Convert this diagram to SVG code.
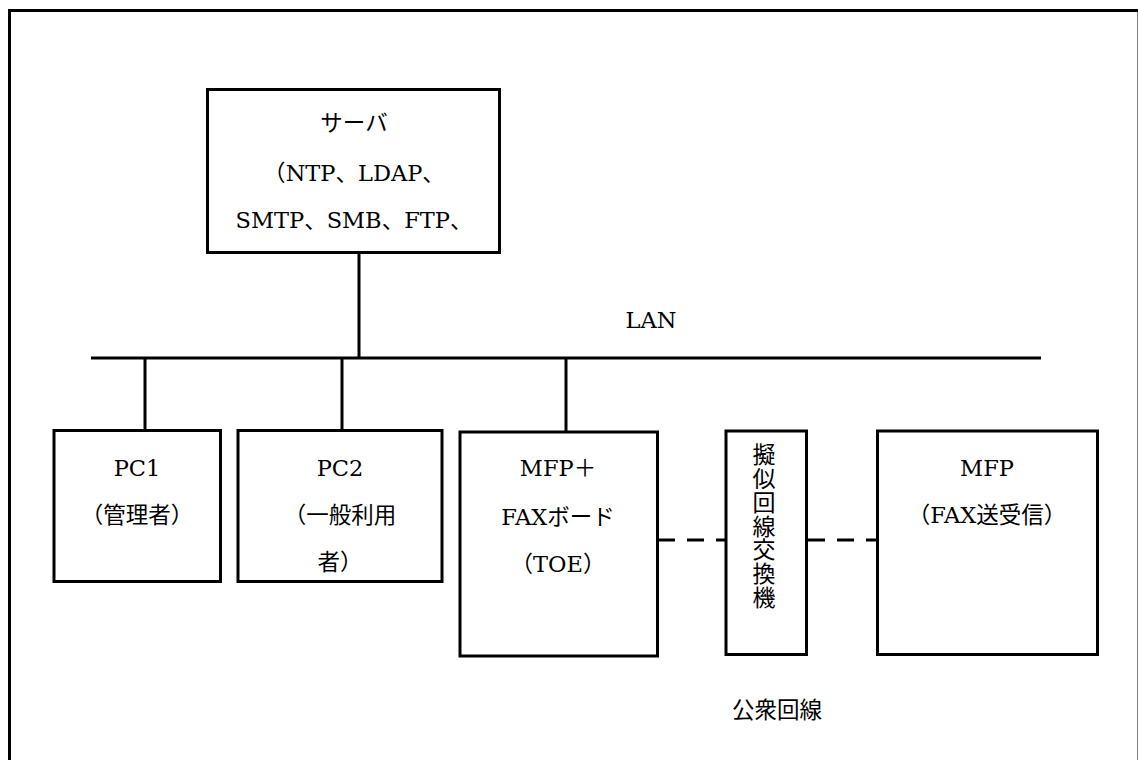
<svg xmlns="http://www.w3.org/2000/svg" width="1138" height="760" viewBox="0 0 1138 760">
<style>
.box{fill:#fff;stroke:#000;stroke-width:3}
.ln{fill:none;stroke:#000;stroke-width:3}
.dash{fill:none;stroke:#000;stroke-width:3;stroke-dasharray:17 12}
text{font-family:"DejaVu Serif","Noto Sans CJK JP",serif;font-size:22.5px;fill:#000;text-anchor:middle}
.la{font-family:"DejaVu Serif",serif}
.vert{writing-mode:vertical-rl;text-anchor:start;font-size:23px;letter-spacing:0.8px}
</style>
<rect width="1138" height="760" fill="#fff"/>
<rect x="9.5" y="10.5" width="1129.5" height="800" fill="none" stroke="#000" stroke-width="3"/>
<g id="connectors">
<line class="ln" x1="91" y1="358" x2="1041" y2="358"/>
<line class="ln" x1="359" y1="252" x2="359" y2="358"/>
<line class="ln" x1="145" y1="358" x2="145" y2="430"/>
<line class="ln" x1="342" y1="358" x2="342" y2="430"/>
<line class="ln" x1="566" y1="358" x2="566" y2="431"/>
<line class="dash" x1="658" y1="540" x2="725" y2="540"/>
<line class="dash" x1="808" y1="540" x2="877" y2="540"/>
</g>
<g id="lan-label"><text x="651" y="328" class="la">LAN</text></g>
<g id="server">
<rect class="box" x="207.5" y="89.5" width="292" height="163"/>
<text x="354" y="131">サーバ</text>
<text x="354" y="181">（<tspan class="la">NTP</tspan>、<tspan class="la">LDAP</tspan>、</text>
<text x="354" y="228"><tspan class="la">SMTP</tspan>、<tspan class="la">SMB</tspan>、<tspan class="la">FTP</tspan>、</text>
</g>
<g id="pc1">
<rect class="box" x="54" y="430.5" width="166.5" height="151"/>
<text x="137" y="476" class="la">PC1</text>
<text x="137" y="523">（管理者）</text>
</g>
<g id="pc2">
<rect class="box" x="238" y="430.5" width="204" height="151"/>
<text x="340" y="476" class="la">PC2</text>
<text x="340" y="523">（一般利用</text>
<text x="340" y="570">者）</text>
</g>
<g id="mfp-fax">
<rect class="box" x="460" y="432" width="197.5" height="224"/>
<text x="558" y="476"><tspan class="la">MFP</tspan>＋</text>
<text x="558" y="525"><tspan class="la">FAX</tspan>ボード</text>
<text x="558" y="572">（<tspan class="la">TOE</tspan>）</text>
</g>
<g id="pbx">
<rect class="box" x="726" y="431" width="80.5" height="223.5"/>
<text class="vert" x="762" y="443">擬似回線交換機</text>
</g>
<g id="mfp">
<rect class="box" x="877.5" y="431" width="220" height="223.5"/>
<text x="987" y="476" class="la">MFP</text>
<text x="987" y="523">（<tspan class="la">FAX</tspan>送受信）</text>
</g>
<g id="public-line-label"><text x="777" y="718">公衆回線</text></g>
</svg>
